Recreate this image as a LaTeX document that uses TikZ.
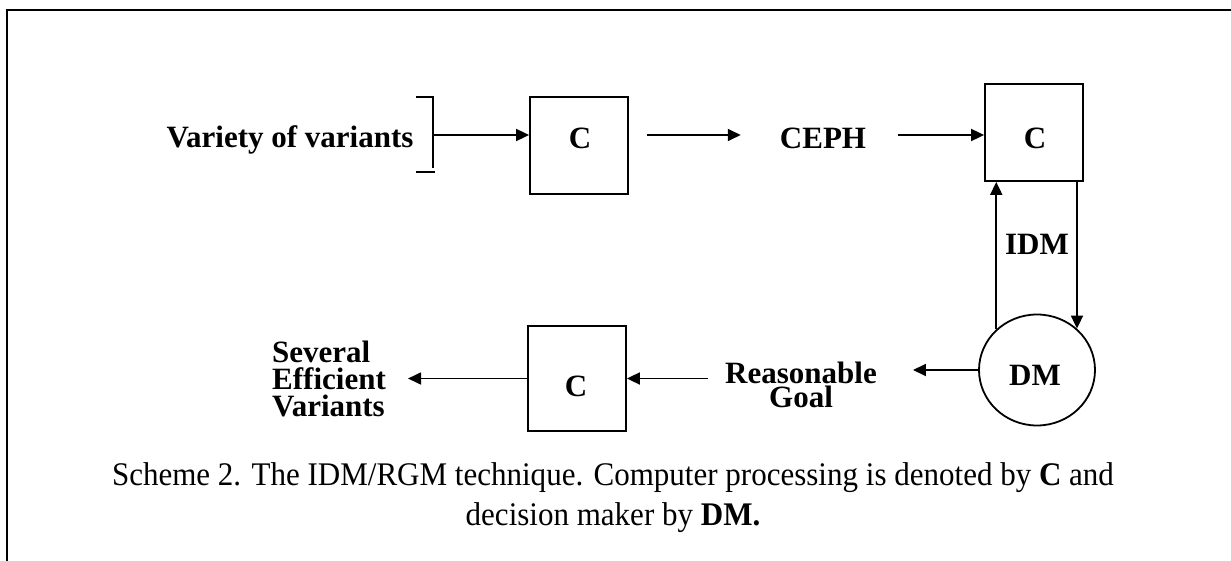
\documentclass[tikz,border=0pt]{standalone}
\usepackage{fontspec}
\setmainfont{Liberation Serif}
\newfontfamily\capfont[FakeStretch=0.94]{Liberation Serif}
\usetikzlibrary{arrows.meta,shapes.geometric}

\tikzset{
  lbl/.style={font=\fontsize{31}{26}\selectfont\bfseries, inner sep=0pt, anchor=base},
  cbox/.style={draw, line width=1.8pt, minimum width=98pt, inner sep=0pt},
  arr/.style={line width=1.8pt, -{Triangle[length=13pt,width=12pt]}},
}

\begin{document}
\begin{tikzpicture}[x=1pt, y=-1pt]
  \useasboundingbox (0,0) rectangle (1231,561);

  % frame
  \draw[line width=2pt] (7,561) -- (7,10) -- (1231,10);

  % upper row
  \node[lbl] (var) at (290,148) {Variety of variants};
  \node[cbox, minimum height=97pt] (box1) at (579,145.5) {};
  \node[lbl] (c1) at (580,149) {C};
  \node[lbl] (ceph) at (823,149) {CEPH};
  \node[cbox, minimum height=97pt] (box2) at (1034,132.5) {};
  \node[lbl] (c2) at (1035,149) {C};
  \coordinate (brk) at (433,135);

  % bracket behind the variants
  \draw[line width=1.8pt] (416,97) -- (433,97) -- (433,168);
  \draw[line width=1.8pt] (416,172) -- (435,172);

  % interactive loop
  \node[lbl] (idm) at (1037,255) {IDM};
  \node[draw, ellipse, line width=1.8pt, minimum width=116pt, minimum height=111pt] (dm) at (1037,370) {};
  \node[lbl] (dmt) at (1035,385) {DM};

  % lower row
  \node[lbl, align=center, anchor=north, font=\fontsize{31}{24}\selectfont\bfseries] (goal) at (801,362) {Reasonable\\Goal};
  \node[cbox, minimum height=105pt] (box3) at (577,378.5) {};
  \node[lbl] (c3) at (576,396) {C};
  \node[lbl, align=left, anchor=north west, font=\fontsize{31}{27}\selectfont\bfseries] (several) at (272,341) {Several\\Efficient\\Variants};

  % caption
  \node[font=\capfont\fontsize{33}{40}\selectfont, align=center, anchor=north, inner sep=0pt] (caption) at (613,462)
    {Scheme 2. The IDM/RGM technique. Computer processing is denoted by \textbf{C} and\\decision maker by \textbf{DM.}};

  % DRAW ARROWS
  \draw[arr] (brk) -- (brk -| box1.west);
  \draw[arr] ([xshift=18pt]box1.east |- brk) -- ([xshift=-39pt]ceph.west |- brk);
  \draw[arr] ([xshift=32pt]ceph.east |- brk) -- (brk -| box2.west);
  \draw[arr] (dm.135) -- (dm.135 |- box2.south);
  \draw[arr] (dm.46 |- box2.south) -- (dm.46);
  \draw[arr] (dm.west) -- ([xshift=36pt]goal.east |- dm.west);
  \draw[arr] ([xshift=-17pt]goal.west |- box3.east) -- (box3.east);
  \draw[arr] (box3.west) -- ([xshift=22pt]several.east |- box3.west);
\end{tikzpicture}
\end{document}
